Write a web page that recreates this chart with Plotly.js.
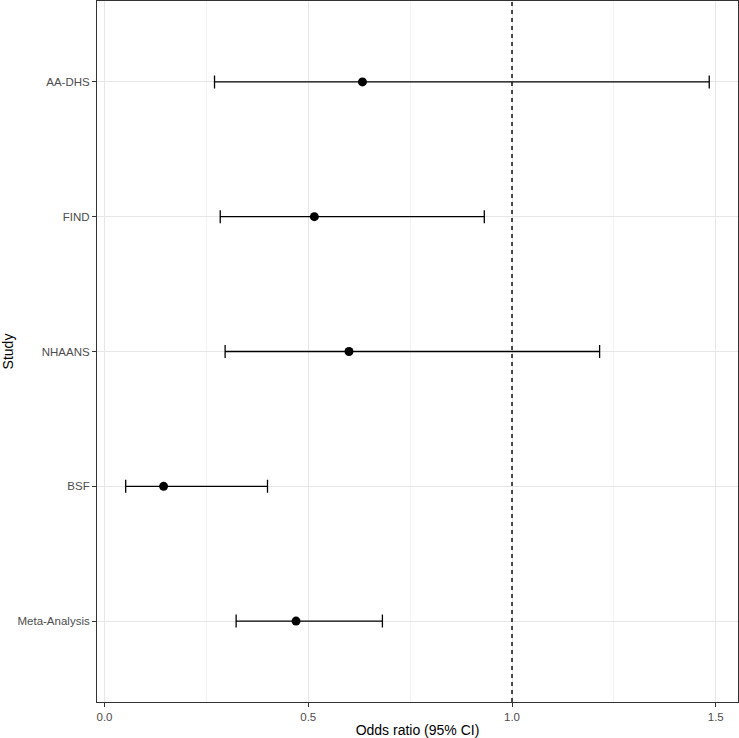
<!DOCTYPE html>
<html>
<head>
<meta charset="utf-8">
<script src="https://cdn.plot.ly/plotly-3.0.1.min.js"></script>
<style>html,body{margin:0;padding:0;background:#fff}#plot{width:739px;height:738px}</style>
</head>
<body>
<div id="plot"></div>
<script>
const studies = ["Meta-Analysis", "BSF", "NHAANS", "FIND", "AA-DHS"];
const oddsRatio = [0.470, 0.145, 0.600, 0.515, 0.633];
const ciLow = [0.323, 0.052, 0.296, 0.284, 0.270];
const ciHigh = [0.682, 0.400, 1.215, 0.932, 1.484];
const xTicks = [0, 0.5, 1, 1.5];
const xTickLabels = ["0.0", "0.5", "1.0", "1.5"];
const refLine = 1;

const trace = {
  type: "scatter",
  mode: "markers",
  x: oddsRatio,
  y: studies,
  marker: {color: "#000000", size: 9},
  error_x: {
    type: "data",
    symmetric: false,
    array: oddsRatio.map((v, i) => ciHigh[i] - v),
    arrayminus: oddsRatio.map((v, i) => v - ciLow[i]),
    color: "#000000",
    thickness: 1.3,
    width: 6.5
  },
  hoverinfo: "x+y",
  showlegend: false
};

const layout = {
  width: 739,
  height: 738,
  margin: {l: 97, r: 1, t: 1, b: 36},
  paper_bgcolor: "#ffffff",
  plot_bgcolor: "#ffffff",
  font: {family: "Liberation Sans, Arial, sans-serif", color: "#000000"},
  xaxis: {
    range: [-0.0184, 1.5546],
    tickvals: xTicks,
    ticktext: xTickLabels,
    tickfont: {size: 11.5, color: "#4d4d4d"},
    ticks: "outside",
    ticklen: 4,
    tickcolor: "#333333",
    showgrid: true,
    gridcolor: "#e6e6e6",
    gridwidth: 1,
    minor: {dtick: 0.25, tick0: 0, showgrid: true, gridcolor: "#efefef", gridwidth: 0.8, ticks: ""},
    zeroline: false,
    showline: true,
    linecolor: "#333333",
    linewidth: 1,
    mirror: true,
    title: {text: "Odds ratio (95% CI)", font: {size: 14, color: "#000000"}, standoff: 4}
  },
  yaxis: {
    type: "category",
    categoryorder: "array",
    categoryarray: studies,
    range: [-0.6, 4.6],
    tickfont: {size: 11.5, color: "#4d4d4d"},
    ticks: "outside",
    ticklen: 4,
    tickcolor: "#333333",
    showgrid: true,
    gridcolor: "#e6e6e6",
    gridwidth: 1,
    zeroline: false,
    showline: true,
    linecolor: "#333333",
    linewidth: 1,
    mirror: true,
    title: {text: "Study", font: {size: 14, color: "#000000"}, standoff: 6}
  },
  shapes: [{
    type: "line",
    xref: "x", yref: "paper",
    x0: refLine, x1: refLine, y0: 0, y1: 1,
    line: {color: "#000000", width: 1.4, dash: "4px,4px"},
    layer: "above"
  }]
};

Plotly.newPlot("plot", [trace], layout, {displayModeBar: false, staticPlot: true});
</script>
</body>
</html>
